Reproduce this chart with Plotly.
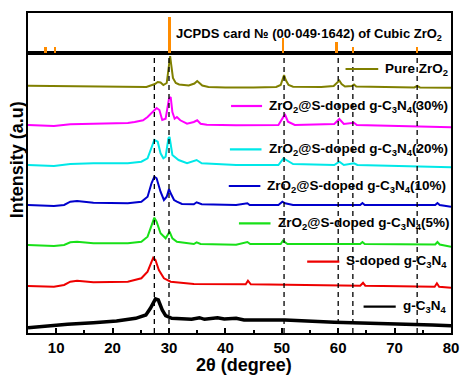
import plotly.graph_objects as go

# ---- XRD patterns (2θ in degrees, stacked intensity in plot units) ----
x_zro2 = [5, 10, 15, 20, 24, 26, 27.5, 28, 28.5, 29, 29.6, 30.0, 30.2, 30.4, 30.7, 31.2, 31.8,
          33.5, 34.5, 35.0, 35.4, 35.9, 37, 40, 45, 49, 49.8, 50.2, 50.4, 50.7, 51.2, 52, 57,
          59.2, 59.8, 60.2, 60.6, 61.2, 62.4, 62.8, 63.2, 70, 73.5, 74, 74.5, 80]
y_zro2 = [247.3, 247, 246.5, 246, 245.7, 246, 249, 251, 250.5, 248, 250, 265, 277, 268, 255, 250, 248.5,
          247.5, 249.5, 252, 250, 247.5, 246, 245.5, 245.5, 246, 248, 255, 258, 253, 248, 246.3, 246,
          247, 250, 252.5, 249, 246.5, 247, 248.5, 246.5, 245.5, 245.5, 247, 245.5, 245.3]

x_30 = [5, 9.6, 12.5, 16.6, 22.7, 23.9, 25.4, 26.2, 27.1, 27.8, 28.3, 28.8, 29.4, 30.0, 30.3, 30.6,
        31.0, 31.4, 32.0, 33.2, 34.4, 35.0, 35.6, 36.7, 41.9, 49.4, 50.3, 50.6, 51.1, 52.3, 59.3,
        60.2, 61, 62.8, 63.3, 74, 80]
y_30 = [208, 207, 208.7, 209, 210, 211, 212.7, 216, 221, 225, 223, 213, 214.3, 234.3, 236, 221,
        214.3, 216, 212.7, 209.3, 211, 212.7, 209.3, 208.3, 207.7, 208, 216.3, 218, 211.3, 208, 209,
        214, 209, 210.3, 208, 207, 205.7]

x_20 = [5, 9.6, 12.5, 16.6, 22.7, 25.1, 26.2, 26.9, 27.4, 28.0, 28.5, 29.0, 29.4, 29.9, 30.1, 30.6,
        31.2, 31.7, 33.2, 34.9, 35.8, 41.9, 49.4, 50.3, 50.8, 52, 59.3, 60.2, 61, 62.8, 63.4, 80]
y_20 = [168, 167, 169, 169.7, 169.7, 171.3, 174.7, 184.7, 193, 191.3, 179.7, 174.7, 176.3, 194.7, 196, 178,
        174.7, 173, 169.7, 173, 169.7, 168, 168, 174.7, 173, 169, 168, 171.3, 168, 169.7, 168, 165.7]

x_10 = [5, 9.6, 11.4, 12.5, 13.7, 16.6, 22.7, 25.1, 26.2, 26.9, 27.4, 27.8, 28.5, 29.1, 29.6, 30.0,
        30.3, 30.9, 31.4, 32.3, 34.4, 34.9, 35.8, 41.9, 43.9, 44.3, 49.4, 50.1, 50.6, 52, 59.9,
        63.9, 64.3, 64.7, 77.2, 77.6, 78, 80]
y_10 = [128, 127, 128, 131.3, 132, 130.3, 129.7, 131.3, 136.3, 149.7, 156.3, 154.7, 141.3, 133, 136.3, 144,
        139.7, 133, 131.3, 129, 128.7, 130.7, 128.7, 128, 129.7, 128, 128, 131.3, 129.7, 128, 128,
        128, 130, 128, 128, 130, 128, 126.3]

x_5 = [5, 9.6, 11.4, 12.5, 13.7, 16.6, 22.7, 25.1, 26.2, 26.7, 27.4, 27.8, 28.5, 29.4, 30.1, 30.6,
       31.4, 34.4, 34.9, 35.6, 41.9, 43.9, 44.4, 49.8, 50.2, 51, 63.9, 64.3, 64.7, 77.2, 77.6, 78, 80]
y_5 = [88, 87, 88, 90.7, 91.3, 89.7, 89.7, 91.3, 96.3, 104.7, 115.3, 111.3, 99.7, 94.7, 101.3, 94.7,
       91.3, 89, 90.7, 89, 88.3, 91, 89, 89, 92.3, 89, 89, 91, 89, 88.5, 91, 88.5, 86.3]

x_s = [5, 9.6, 11.4, 12.5, 13.7, 16.6, 22.7, 25.1, 26.2, 26.7, 27.2, 27.6, 28.2, 29.1, 30.3, 34.4,
       40, 43.6, 44.0, 44.5, 63.9, 64.4, 64.8, 77.1, 77.5, 77.9, 80]
y_s = [47, 46.3, 48, 51.3, 52.3, 50.7, 51.3, 54.7, 61.3, 68, 75.3, 73, 63, 54.7, 51.3, 49,
       48.7, 48.7, 52.3, 48.7, 47.3, 50.3, 47.3, 46.3, 49.7, 46.3, 45.3]

x_gcn = [5, 8.5, 12, 16.6, 20.7, 24.1, 25.9, 26.7, 27.6, 28.1, 28.8, 29.4, 30.5, 34, 35.4, 36.3,
         38.6, 39.8, 41.9, 43.3, 50.6, 59.3, 68, 76.7, 80]
y_gcn = [5.3, 7.3, 8.7, 10.3, 12, 14.7, 18, 24.7, 34, 33, 23, 17.3, 14.7, 13.7, 15.3, 13.7,
         15.3, 14, 14.7, 13, 13, 10.7, 9.7, 8, 7.3]

# ---- JCPDS 00-049-1642 reference lines (relative intensity, %) ----
jcpds_x = [8.1, 9.75, 30.1, 50.2, 59.7, 62.6, 73.9]
jcpds_i = [17, 17, 100, 42, 29, 16, 17]

# reflections marked with guide lines
guide_x = [27.4, 30.0, 50.4, 60.0, 62.6, 74.0]

# ---- series labels ----
names = [
    "Pure ZrO<sub>2</sub>",
    "ZrO<sub>2</sub>@S-doped g-C<sub>3</sub>N<sub>4</sub>(30%)",
    "ZrO<sub>2</sub>@S-doped g-C<sub>3</sub>N<sub>4</sub>(20%)",
    "ZrO<sub>2</sub>@S-doped g-C<sub>3</sub>N<sub>4</sub>(10%)",
    "ZrO<sub>2</sub>@S-doped g-C<sub>3</sub>N<sub>4</sub>(5%)",
    "S-doped g-C<sub>3</sub>N<sub>4</sub>",
    "g-C<sub>3</sub>N<sub>4</sub>",
]
xs = [x_zro2, x_30, x_20, x_10, x_5, x_s, x_gcn]
ys = [y_zro2, y_30, y_20, y_10, y_5, y_s, y_gcn]
colors = ["#808000", "#FF00FF", "#00E8E8", "#0000CC", "#18E018", "#EE0000", "#000000"]
widths = [2, 2, 2, 2, 2, 2, 3.5]

# in-plot label placement: (line start, line end, label y)
label_pos = [
    (61.3, 67.1, 264),
    (41.0, 46.5, 227),
    (40.8, 46.4, 183.7),
    (40.6, 46.2, 147),
    (42.4, 48.0, 109.7),
    (54.5, 60.2, 71.3),
    (64.5, 70.2, 26.3),
]

FONT = "Liberation Sans, Arial, sans-serif"

fig = go.Figure()

for x, y, c, w, nm in zip(xs, ys, colors, widths, names):
    fig.add_trace(go.Scatter(x=x, y=y, mode="lines", line=dict(color=c, width=w),
                             name=nm, showlegend=False, xaxis="x", yaxis="y"))

fig.add_trace(go.Bar(x=jcpds_x, y=jcpds_i, width=0.38, marker=dict(color="#FF8C00", line=dict(width=0)),
                     showlegend=False, xaxis="x2", yaxis="y2"))

shapes = []
for gx in guide_x:
    shapes.append(dict(type="line", xref="x", yref="y domain", x0=gx, x1=gx, y0=0, y1=1,
                       line=dict(color="black", width=1.3, dash="5px,4px"), layer="above"))

annotations = []
for (x0, x1, ly), c, nm in zip(label_pos, colors, names):
    shapes.append(dict(type="line", xref="x", yref="y", x0=x0, x1=x1, y0=ly, y1=ly,
                       line=dict(color=c, width=2.2)))
    annotations.append(dict(x=x1 + 0.9, y=ly, xref="x", yref="y", text=nm, showarrow=False,
                            xanchor="left", yanchor="middle",
                            font=dict(family=FONT, size=13.5, color="black", weight="bold")))

annotations.append(dict(x=30.9, y=0.965, xref="x2", yref="paper",
                        text="JCPDS card № (00·049·1642) of Cubic ZrO<sub>2</sub>",
                        showarrow=False, xanchor="left", yanchor="top",
                        font=dict(family=FONT, size=13, color="black", weight="bold")))
annotations.append(dict(x=0, y=0.54, xref="paper", yref="paper", xshift=-11,
                        text="Intensity (a.u)", textangle=-90, showarrow=False,
                        xanchor="center", yanchor="middle",
                        font=dict(family=FONT, size=18, color="black", weight="bold")))
annotations.append(dict(x=0.51, y=-0.1, xref="paper", yref="paper",
                        text="2θ (degree)", showarrow=False,
                        xanchor="center", yanchor="middle",
                        font=dict(family=FONT, size=18, color="black", weight="bold")))

fig.update_layout(
    width=467, height=377,
    margin=dict(l=28, r=8, t=13, b=44),
    paper_bgcolor="white", plot_bgcolor="white",
    bargap=0,
    shapes=shapes, annotations=annotations,
    xaxis=dict(domain=[0, 1], anchor="y", range=[5, 80],
               tickmode="array", tickvals=[10, 20, 30, 40, 50, 60, 70, 80],
               ticks="inside", ticklen=5, tickwidth=1.5, tickcolor="black",
               minor=dict(tickvals=[5, 15, 25, 35, 45, 55, 65, 75], ticks="inside",
                          ticklen=3, tickwidth=1.5, tickcolor="black"),
               ticklabelstandoff=0,
               tickfont=dict(family=FONT, size=15, color="black", weight="bold"),
               showline=True, linecolor="black", linewidth=2, mirror=True,
               showgrid=False, zeroline=False),
    yaxis=dict(domain=[0, 0.875], anchor="x", range=[0, 280],
               showticklabels=False, ticks="", showline=True, linecolor="black",
               linewidth=2, mirror=True, showgrid=False, zeroline=False),
    xaxis2=dict(domain=[0, 1], anchor="y2", matches="x", range=[5, 80],
                showticklabels=False, ticks="", showline=True, linecolor="black",
                linewidth=2, mirror=True, showgrid=False, zeroline=False),
    yaxis2=dict(domain=[0.875, 1], anchor="x2", range=[0, 110],
                showticklabels=False, ticks="", showline=True, linecolor="black",
                linewidth=2, mirror=True, showgrid=False, zeroline=False),
)

fig.write_html("out.html")
